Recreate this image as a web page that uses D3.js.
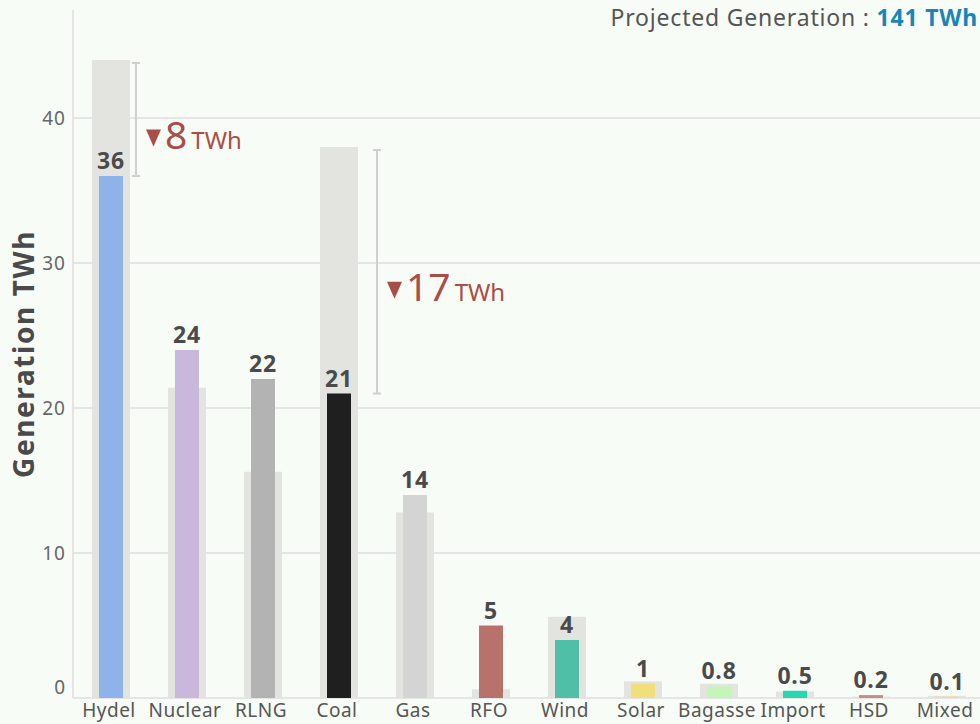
<!DOCTYPE html>
<html>
<head>
<meta charset="utf-8">
<script src="https://cdn.jsdelivr.net/npm/d3@7"></script>
<style>
  html, body { margin: 0; padding: 0; background: #f8fcf6; }
  svg { display: block; font-family: "Noto Sans", "Open Sans", sans-serif; }
</style>
</head>
<body>
<svg id="chart" width="980" height="724"></svg>
<script>
// Generation by source (TWh): current vs projected
const categories = ["Hydel", "Nuclear", "RLNG", "Coal", "Gas", "RFO", "Wind", "Solar", "Bagasse", "Import", "HSD", "Mixed"];
const actualValues = [36, 24, 22, 21, 14, 5, 4, 1, 0.8, 0.5, 0.2, 0.1];
const projectedValues = [44, 21.4, 15.6, 38, 12.8, 0.6, 5.6, 1.15, 0.98, 0.45, 0.1, 0.15];
const barColors = ["#8db3ea", "#c9b8dc", "#b3b3b3", "#1f1f1f", "#d4d4d4", "#b9716b", "#4fbfa8", "#f2de7a", "#c6f5b8", "#2ad6b0", "#c98b86", "#f0d9a8"];
const yTicks = [0, 10, 20, 30, 40];
const shortfalls = [{ category: "Hydel", label: "8" }, { category: "Coal", label: "17" }];
const totalLabel = "141 TWh";

// horizontal distance of each shortfall bracket from its bar centre
const bracketOffset = { Hydel: 25, Coal: 38 };

const svg = d3.select("#chart");
const W = 980;
const margin = { left: 73, right: -5 };

const x = d3.scaleBand().domain(categories).range([margin.left, W - margin.right]);
const y = d3.scaleLinear().domain([0, 40]).range([698, 118]);

// gridlines
svg.append("g").selectAll("line").data(yTicks.filter(d => d > 0)).join("line")
  .attr("x1", margin.left).attr("x2", W)
  .attr("y1", d => y(d)).attr("y2", d => y(d))
  .attr("stroke", "#dedede").attr("stroke-width", 1.5);

// axis lines
svg.append("line").attr("x1", margin.left).attr("x2", margin.left)
  .attr("y1", 10).attr("y2", y(0)).attr("stroke", "#dedede").attr("stroke-width", 1.5);
svg.append("line").attr("x1", margin.left).attr("x2", W)
  .attr("y1", y(0)).attr("y2", y(0)).attr("stroke", "#dedede").attr("stroke-width", 1.5);

// y tick labels
svg.append("g").selectAll("text").data(yTicks).join("text")
  .attr("x", 66).attr("y", d => y(d) - (d === 0 ? 11 : 0))
  .attr("dy", "0.35em").attr("text-anchor", "end")
  .attr("font-size", 19).attr("letter-spacing", 1).attr("fill", "#666")
  .text(d => d);

// y axis title
svg.append("text")
  .attr("transform", `translate(34,354) rotate(-90)`)
  .attr("text-anchor", "middle")
  .attr("font-size", 28).attr("letter-spacing", 1.6).attr("font-weight", 700).attr("fill", "#4a4a4a")
  .text("Generation TWh");

const data = categories.map((c, i) => ({ c, a: actualValues[i], p: projectedValues[i], color: barColors[i] }));
const cx = d => x(d.c) + x.bandwidth() / 2;
const wideW = 38, narrowW = 24;

// projected (background) bars
svg.append("g").selectAll("rect").data(data).join("rect")
  .attr("x", d => cx(d) - wideW / 2).attr("width", wideW)
  .attr("y", d => y(d.p)).attr("height", d => y(0) - y(d.p))
  .attr("fill", "#e3e4e0");

// actual bars
svg.append("g").selectAll("rect").data(data).join("rect")
  .attr("x", d => cx(d) - narrowW / 2).attr("width", narrowW)
  .attr("y", d => y(d.a)).attr("height", d => y(0) - y(d.a))
  .attr("fill", d => d.color);

// value labels
svg.append("g").selectAll("text").data(data).join("text")
  .attr("x", d => cx(d)).attr("y", d => y(d.a) - 7)
  .attr("text-anchor", "middle")
  .attr("font-size", 23).attr("letter-spacing", 0.8).attr("font-weight", 700).attr("fill", "#4a4a4a")
  .text(d => d.a);

// category labels
svg.append("g").selectAll("text").data(data).join("text")
  .attr("x", d => cx(d) - 2).attr("y", 717)
  .attr("text-anchor", "middle")
  .attr("font-size", 19).attr("letter-spacing", 0.5).attr("fill", "#555")
  .text(d => d.c);

// shortfall brackets, down-arrows and labels
shortfalls.forEach(s => {
  const d = data.find(e => e.c === s.category);
  const lx = cx(d) + bracketOffset[s.category];
  const y1 = y(d.p) + 3, y2 = y(d.a);
  const g = svg.append("g").attr("stroke", "#cfcfcf").attr("stroke-width", 2);
  g.append("line").attr("x1", lx).attr("x2", lx).attr("y1", y1).attr("y2", y2);
  g.append("line").attr("x1", lx - 4).attr("x2", lx + 4).attr("y1", y1).attr("y2", y1);
  g.append("line").attr("x1", lx - 4).attr("x2", lx + 4).attr("y1", y2).attr("y2", y2);
  const base = (y1 + y2) / 2 + 29;
  svg.append("path")
    .attr("d", `M${lx + 10},${base - 19} L${lx + 25},${base - 19} L${lx + 17.5},${base - 2} Z`)
    .attr("fill", "#a84e47");
  const t = svg.append("text").attr("x", lx + 29).attr("y", base).attr("fill", "#a84e47");
  t.append("tspan").attr("font-size", 39).text(s.label);
  t.append("tspan").attr("font-size", 24).attr("dx", 4).text("TWh");
});

// header
const hdr = svg.append("text").attr("x", 978).attr("y", 26).attr("text-anchor", "end")
  .attr("font-size", 23).attr("letter-spacing", 0.8);
hdr.append("tspan").attr("fill", "#555").text("Projected Generation : ");
hdr.append("tspan").attr("fill", "#1a85b8").attr("font-weight", 700).text(totalLabel);
</script>
</body>
</html>
